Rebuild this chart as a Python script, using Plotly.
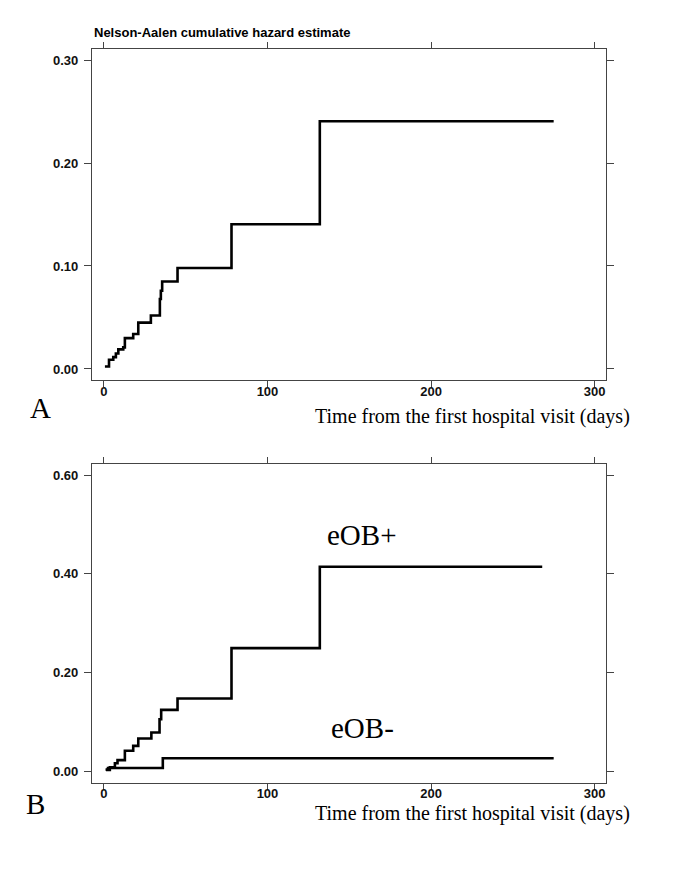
import plotly.graph_objects as go

# ---- data ----
time_a = [0.6, 3.1, 5.7, 7.3, 8.8, 11.8, 12.8, 17.9, 21, 28.7, 34.2, 34.8, 35.6, 45, 78, 132, 275]
haz_a = [0.0024, 0.009, 0.0115, 0.015, 0.019, 0.021, 0.030, 0.034, 0.045, 0.052, 0.068, 0.076, 0.085,
         0.098, 0.1405, 0.2405, 0.2405]

time_pos = [1.2, 3.6, 6.7, 8.3, 12.8, 17.9, 21, 29, 34, 35, 45, 78, 132, 268]
haz_pos = [0.002, 0.0075, 0.0156, 0.022, 0.041, 0.051, 0.066, 0.078, 0.105, 0.124, 0.147, 0.249, 0.414, 0.414]

time_neg = [1, 2.5, 36, 275]
haz_neg = [0.003, 0.006, 0.026, 0.026]

x_ticks = [0, 100, 200, 300]
y_ticks_a = [0, 0.1, 0.2, 0.3]
y_ticks_b = [0, 0.2, 0.4, 0.6]

title_text = "Nelson-Aalen cumulative hazard estimate"
x_title = "Time from the first hospital visit (days)"

# the page body has an 8px margin, so the figure is drawn 8px smaller and coordinates shifted
OFF = 8
W, H = 685 - OFF, 874 - OFF


def px(x):
    return (x - OFF) / W


def py(y):
    return 1 - (y - OFF) / H


fig = go.Figure()
line_style = dict(color="black", width=2.6, shape="hv")
fig.add_trace(go.Scatter(x=time_a, y=haz_a, mode="lines", line=line_style, xaxis="x", yaxis="y", showlegend=False))
fig.add_trace(go.Scatter(x=time_pos, y=haz_pos, mode="lines", line=line_style, xaxis="x2", yaxis="y2", showlegend=False))
fig.add_trace(go.Scatter(x=time_neg, y=haz_neg, mode="lines", line=line_style, xaxis="x2", yaxis="y2", showlegend=False))

axis_color = "#444444"
tick_font = dict(family="Liberation Sans, Arial", size=13, color="#111111", weight="bold")


def xaxis(anchor):
    return dict(domain=[px(92), px(606)], range=[-7.3, 307], tickvals=x_ticks, ticks="outside", ticklen=6,
                tickcolor=axis_color, showline=True, linecolor=axis_color, linewidth=1.2, mirror="ticks",
                showgrid=False, zeroline=False, tickfont=tick_font, anchor=anchor, ticklabelstandoff=-7)


def yaxis(anchor, dom, rng, tv):
    return dict(domain=dom, range=rng, tickvals=tv, tickformat=".2f", ticks="outside", ticklen=7,
                tickcolor=axis_color, showline=True, linecolor=axis_color, linewidth=1.2, mirror="ticks",
                showgrid=False, zeroline=False, tickfont=tick_font, anchor=anchor, ticklabelstandoff=3)


fig.update_layout(
    width=W, height=H,
    margin=dict(l=0, r=0, t=0, b=0),
    paper_bgcolor="white", plot_bgcolor="white",
    xaxis=xaxis("y"),
    yaxis=yaxis("x", [py(380), py(49)], [-0.0107, 0.3107], y_ticks_a),
    xaxis2=xaxis("y2"),
    yaxis2=yaxis("x2", [py(782.5), py(464.3)], [-0.0233, 0.6217], y_ticks_b),
)

serif = "Liberation Serif, Times New Roman"
annos = [
    dict(text=title_text, x=px(92), y=py(32), xanchor="left", yanchor="middle",
         font=dict(family="Liberation Sans, Arial", size=13, color="black", weight="bold")),
    dict(text="A", x=px(40), y=py(408), xanchor="center", yanchor="middle",
         font=dict(family=serif, size=29, color="black")),
    dict(text="B", x=px(35), y=py(804), xanchor="center", yanchor="middle",
         font=dict(family=serif, size=29, color="black")),
    dict(text=x_title, x=px(632), y=py(417), xanchor="right", yanchor="middle",
         font=dict(family=serif, size=20, color="black")),
    dict(text=x_title, x=px(632), y=py(813), xanchor="right", yanchor="middle",
         font=dict(family=serif, size=20, color="black")),
]
for a in annos:
    a.update(xref="paper", yref="paper", showarrow=False)
    fig.add_annotation(**a)

fig.add_annotation(text="eOB+", x=158, y=0.478, xref="x2", yref="y2", showarrow=False,
                   font=dict(family=serif, size=29, color="black"))
fig.add_annotation(text="eOB-", x=158, y=0.087, xref="x2", yref="y2", showarrow=False,
                   font=dict(family=serif, size=29, color="black"))

fig.write_html("out.html")
